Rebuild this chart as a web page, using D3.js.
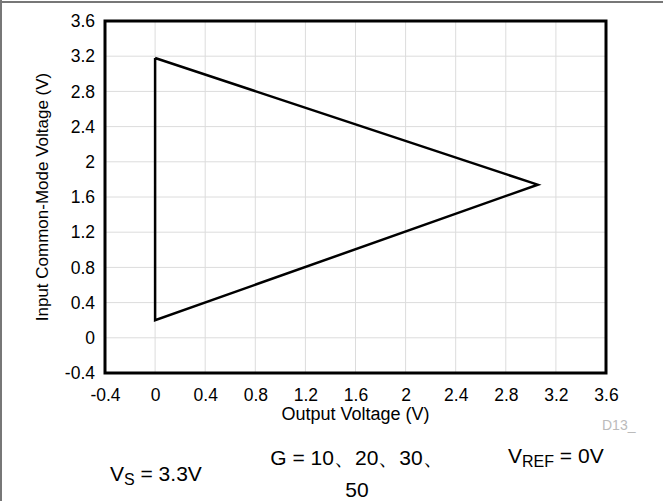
<!DOCTYPE html>
<html>
<head>
<meta charset="utf-8">
<script src="https://cdn.jsdelivr.net/npm/d3@7"></script>
<style>
  body { margin: 0; background: #fff; }
  svg { display: block; font-family: "Liberation Sans", Arial, sans-serif; }
</style>
</head>
<body>
<script>
// triangle boundary: output voltage vs input common-mode voltage
const outputV = [0, 3.055, 0, 0];
const inputCM = [3.18, 1.74, 0.2, 3.18];
const xTicks = [-0.4, 0, 0.4, 0.8, 1.2, 1.6, 2, 2.4, 2.8, 3.2, 3.6];
const yTicks = [-0.4, 0, 0.4, 0.8, 1.2, 1.6, 2, 2.4, 2.8, 3.2, 3.6];

const width = 663, height = 501;
const margin = {top: 21, right: 57, bottom: 128, left: 105};

const svg = d3.select("body").append("svg")
    .attr("width", width)
    .attr("height", height);

// outer frame (top + left visible)
svg.append("line").attr("x1", 0).attr("x2", width).attr("y1", 2).attr("y2", 2)
    .attr("stroke", "#777").attr("stroke-width", 2);
svg.append("line").attr("x1", 1).attr("x2", 1).attr("y1", 0).attr("y2", height)
    .attr("stroke", "#777").attr("stroke-width", 2);

const x = d3.scaleLinear().domain([-0.4, 3.6]).range([margin.left, width - margin.right]);
const y = d3.scaleLinear().domain([-0.4, 3.6]).range([height - margin.bottom, margin.top]);

// plain hyphen for negatives, like the original
const fmt = d => String(+d.toFixed(1));

// grid
svg.append("g")
  .selectAll("line")
  .data(xTicks.slice(1, -1))
  .join("line")
    .attr("x1", d => x(d)).attr("x2", d => x(d))
    .attr("y1", y(3.6)).attr("y2", y(-0.4))
    .attr("stroke", "#dcdcdc").attr("stroke-width", 1);
svg.append("g")
  .selectAll("line")
  .data(yTicks.slice(1, -1))
  .join("line")
    .attr("y1", d => y(d)).attr("y2", d => y(d))
    .attr("x1", x(-0.4)).attr("x2", x(3.6))
    .attr("stroke", "#dcdcdc").attr("stroke-width", 1);

// axes (labels only)
const xAxis = svg.append("g")
    .attr("transform", `translate(0,${y(-0.4)})`)
    .call(d3.axisBottom(x).tickValues(xTicks).tickFormat(fmt).tickSize(0).tickPadding(16));
const yAxis = svg.append("g")
    .attr("transform", `translate(${x(-0.4)},0)`)
    .call(d3.axisLeft(y).tickValues(yTicks).tickFormat(fmt).tickSize(0).tickPadding(10));
[xAxis, yAxis].forEach(g => {
  g.select(".domain").remove();
  g.attr("font-size", null).attr("font-family", null);
  g.selectAll("text")
    .style("font-size", "17.5px")
    .attr("fill", "#000");
});

// triangle
const line = d3.line()
    .x((d, i) => x(outputV[i]))
    .y((d, i) => y(inputCM[i]));
svg.append("path")
    .datum(outputV)
    .attr("d", line)
    .attr("fill", "none")
    .attr("stroke", "#000")
    .attr("stroke-width", 2.5)
    .attr("stroke-linejoin", "miter");

// plot frame
svg.append("rect")
    .attr("x", x(-0.4)).attr("y", y(3.6))
    .attr("width", x(3.6) - x(-0.4))
    .attr("height", y(-0.4) - y(3.6))
    .attr("fill", "none")
    .attr("stroke", "#000")
    .attr("stroke-width", 3);

// axis titles
svg.append("text")
    .attr("x", (x(-0.4) + x(3.6)) / 2)
    .attr("y", 420)
    .attr("text-anchor", "middle")
    .style("font-size", "18px")
    .text("Output Voltage (V)");
svg.append("text")
    .attr("transform", `translate(48,${(y(-0.4) + y(3.6)) / 2}) rotate(-90)`)
    .attr("text-anchor", "middle")
    .style("font-size", "17px")
    .text("Input Common-Mode Voltage (V)");

svg.append("text")
    .attr("x", 602).attr("y", 430)
    .style("font-size", "14px")
    .attr("fill", "#bbb")
    .text("D13_");

// annotations
const vs = svg.append("text").attr("x", 110).attr("y", 481).style("font-size", "21px");
vs.append("tspan").text("V");
vs.append("tspan").attr("dy", 4).style("font-size", "16px").text("S");
vs.append("tspan").attr("dy", -4).text(" = 3.3V");

svg.append("text").attr("x", 357).attr("y", 465).attr("text-anchor", "middle")
    .style("font-size", "21px").text("G = 10、20、30、");
svg.append("text").attr("x", 357).attr("y", 497).attr("text-anchor", "middle")
    .style("font-size", "21px").text("50");

const vr = svg.append("text").attr("x", 508).attr("y", 463).style("font-size", "21px");
vr.append("tspan").text("V");
vr.append("tspan").attr("dy", 4).style("font-size", "16px").text("REF");
vr.append("tspan").attr("dy", -4).text(" = 0V");
</script>
</body>
</html>
